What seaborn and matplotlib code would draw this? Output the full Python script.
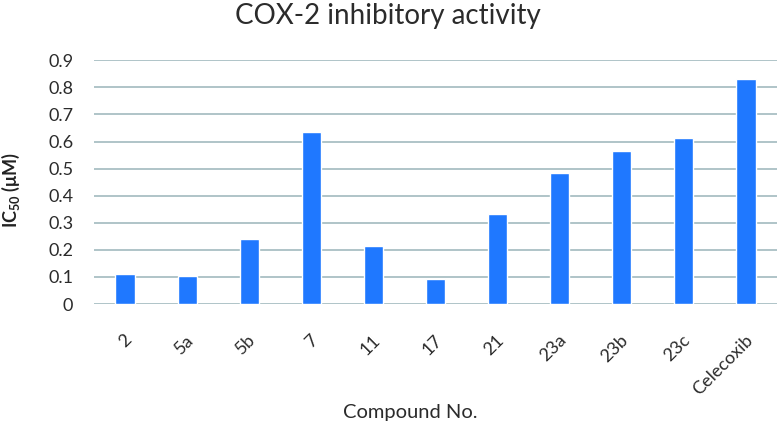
import matplotlib
matplotlib.use("Agg")
import matplotlib.pyplot as plt
import matplotlib.transforms as mtransforms
import seaborn as sns

compounds = ["2", "5a", "5b", "7", "11", "17", "21", "23a", "23b", "23c", "Celecoxib"]
ic50 = [0.111, 0.103, 0.241, 0.634, 0.214, 0.093, 0.333, 0.483, 0.565, 0.612, 0.832]
yticks = [0, 0.1, 0.2, 0.3, 0.4, 0.5, 0.6, 0.7, 0.8, 0.9]
ytick_labels = ["0", "0.1", "0.2", "0.3", "0.4", "0.5", "0.6", "0.7", "0.8", "0.9"]

sns.set_style("white")
plt.rcParams["font.family"] = ["Lato", "DejaVu Sans"]
plt.rcParams["mathtext.fontset"] = "custom"
plt.rcParams["mathtext.rm"] = "Lato"
plt.rcParams["mathtext.bf"] = "Lato:bold"

fig = plt.figure(figsize=(7.79, 4.23), dpi=100)
ax = fig.add_axes([0.1207, 0.2813, 0.8767, 0.5761])

sns.barplot(x=compounds, y=ic50, color="#1f78ff", width=0.31, saturation=1, ax=ax, zorder=3)

ax.set_ylim(0, 0.9)
ax.set_yticks(yticks)
ax.set_yticklabels(ytick_labels)
ax.grid(axis="y", color="#a9bfc4", linewidth=1.3, zorder=0)
ax.set_axisbelow(True)
for s in ax.spines.values():
    s.set_visible(False)
ax.tick_params(axis="both", length=0, labelcolor="#2b2b2b")
ax.tick_params(axis="y", pad=15, labelsize=13)
ax.tick_params(axis="x", pad=24, labelsize=13)
offset = mtransforms.ScaledTranslation(3 / 72, 0, fig.dpi_scale_trans)
for lab in ax.get_xticklabels():
    lab.set_rotation(45)
    lab.set_ha("right")
    lab.set_va("center")
    lab.set_rotation_mode("anchor")
    lab.set_transform(lab.get_transform() + offset)

ax.set_ylabel(r"IC$_{\mathbf{50}}$ ($\mathbf{\mu}$M)", fontsize=13, fontweight="bold", color="#222222")
ax.yaxis.set_label_coords(-0.105, 0.468)
ax.set_xlabel("Compound No.", fontsize=14.5, color="#2b2b2b")
ax.xaxis.set_label_coords(0.463, -0.41)
fig.text(0.498, 0.962, "COX-2 inhibitory activity", ha="center", va="center", fontsize=20, color="#2b2b2b")

fig.savefig("out.png", dpi=100)
